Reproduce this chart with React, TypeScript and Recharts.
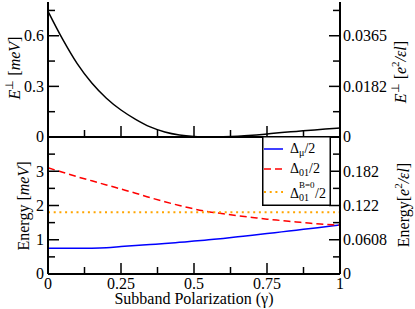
import React from 'react';
import { LineChart, Line, XAxis, YAxis, Legend } from 'recharts';

// --- data ---
const GAMMA = [0, 0.05, 0.1, 0.15, 0.2, 0.25, 0.3, 0.35, 0.4, 0.45, 0.5, 0.55, 0.6, 0.65, 0.7, 0.75, 0.8, 0.85, 0.9, 0.95, 1];
const E_PERP = [0.745, 0.58, 0.435, 0.32, 0.23, 0.16, 0.105, 0.06, 0.03, 0.012, 0.003, 0, 0.001, 0.004, 0.01, 0.018, 0.026, 0.033, 0.04, 0.047, 0.053];
const DELTA_MU = [0.75, 0.75, 0.75, 0.755, 0.77, 0.8, 0.83, 0.86, 0.89, 0.925, 0.96, 1.0, 1.04, 1.085, 1.13, 1.18, 1.23, 1.28, 1.33, 1.38, 1.43];
const DELTA_01 = [3.1, 2.97, 2.84, 2.72, 2.6, 2.48, 2.36, 2.23, 2.11, 2.0, 1.9, 1.82, 1.76, 1.7, 1.65, 1.6, 1.56, 1.52, 1.48, 1.45, 1.42];
const DELTA_01_B0 = [1.8, 1.8, 1.8, 1.8, 1.8, 1.8, 1.8, 1.8, 1.8, 1.8, 1.8, 1.8, 1.8, 1.8, 1.8, 1.8, 1.8, 1.8, 1.8, 1.8, 1.8];

// --- ticks ---
const X_TICKS = [0, 0.125, 0.25, 0.375, 0.5, 0.625, 0.75, 0.875, 1];
const X_LABELS = ['0', '', '0.25', '', '0.5', '', '0.75', '', '1'];
const X_NO_LABELS = ['-', '', '-', '', '-', '', '-', '', '-'];
const TOP_Y_TICKS = [0, 0.15, 0.3, 0.45, 0.6, 0.75];
const TOP_Y_LABELS = ['0', '', '0.3', '', '0.6', ''];
const TOP_R_LABELS = ['0', '', '0.0182', '', '0.0365', ''];
const BOT_Y_TICKS = [0, 0.5, 1, 1.5, 2, 2.5, 3, 3.5];
const BOT_Y_LABELS = ['0', '', '1', '', '2', '', '3', ''];
const BOT_R_LABELS = ['0', '', '0.0608', '', '0.122', '', '0.182', ''];

const LEGEND_ORDER = ['mu', 'd01', 'd01b0'];

const FONT = '"Liberation Serif", "Times New Roman", serif';
const TXT = { fontFamily: FONT };
const AXIS = { stroke: '#000', strokeWidth: 2 };

const topData = GAMMA.map((g, i) => ({ g, e: E_PERP[i] }));
const botData = GAMMA.map((g, i) => ({ g, mu: DELTA_MU[i], d01: DELTA_01[i], d01b0: DELTA_01_B0[i] }));

// ticks point inward, labelled ones are longer
const yTick = (labels: string[], side: 'left' | 'right') => (props: any) => {
  const { x, y, index } = props;
  const label = labels[index] ?? '';
  const len = label ? 11 : 7;
  const d = side === 'left' ? 1 : -1;
  return (
    <g>
      <line x1={x} y1={y} x2={x + d * len} y2={y} stroke="#000" strokeWidth={1.5} />
      {label && (
        <text x={side === 'left' ? x - 4 : x + 3} y={y} dy="0.33em" textAnchor={side === 'left' ? 'end' : 'start'}
          style={TXT} fontSize={16} fill="#000">{label}</text>
      )}
    </g>
  );
};

const xTick = (labels: string[]) => (props: any) => {
  const { x, y, index } = props;
  const label = labels[index] ?? '';
  const len = label ? 11 : 7;
  return (
    <g>
      <line x1={x} y1={y} x2={x} y2={y - len} stroke="#000" strokeWidth={1.5} />
      {label && label !== '-' && (
        <text x={x} y={y + 14.5} textAnchor="middle" style={TXT} fontSize={16} fill="#000">{label}</text>
      )}
    </g>
  );
};

// own prop names so that the axis label props don't override the position
const VTitle = ({ bx, by, children }: any) => (
  <text x={bx} y={by} transform={`rotate(-90 ${bx} ${by})`} textAnchor="middle" style={TXT} fontSize={16} fill="#000">
    {children}
  </text>
);
const HTitle = ({ bx, by, children }: any) => (
  <text x={bx} y={by} textAnchor="middle" style={TXT} fontSize={16} fill="#000">{children}</text>
);

const EperpMeV = <VTitle bx={20} by={68}><tspan fontStyle="italic">E</tspan><tspan fontSize={11} dy={-7}>⊥</tspan><tspan dy={7}> [</tspan><tspan fontStyle="italic">meV</tspan>]</VTitle>;
const EperpCoul = <VTitle bx={406} by={72}><tspan fontStyle="italic">E</tspan><tspan fontSize={11} dy={-7}>⊥</tspan><tspan dy={7}> [</tspan><tspan fontStyle="italic">e</tspan><tspan fontSize={11} dy={-7}>2</tspan><tspan dy={7} fontStyle="italic">/εl</tspan>]</VTitle>;
const EnergyMeV = <VTitle bx={29} by={70}>Energy [<tspan fontStyle="italic">meV</tspan>]</VTitle>;
const EnergyCoul = <VTitle bx={409} by={69}>Energy[<tspan fontStyle="italic">e</tspan><tspan fontSize={11} dy={-7}>2</tspan><tspan dy={7} fontStyle="italic">/εl</tspan>]</VTitle>;
const XTitle = <HTitle bx={194} by={168}>Subband Polarization (γ)</HTitle>;

const LegendBox = (props: any) => {
  const items = props.payload ?? [];
  const rowY = [13, 33, 56];
  return (
    <svg width={69} height={71} style={{ display: 'block' }}>
      <rect x={0.75} y={0.75} width={67.5} height={68.5} fill="#fff" stroke="#000" strokeWidth={1.5} />
      {items.map((it: any) => {
        const i = LEGEND_ORDER.indexOf(it.dataKey);
        if (i < 0) return null;
        return (
          <line key={it.dataKey} x1={2} x2={21} y1={rowY[i]} y2={rowY[i]} stroke={it.color}
            strokeWidth={i === 2 ? 2 : 1.5} strokeDasharray={it.payload?.strokeDasharray} />
        );
      })}
      <text style={TXT} fontSize={14} fill="#000">
        <tspan x={28} y={16.5}>Δ</tspan><tspan fontSize={10} dy={3}>μ</tspan><tspan dy={-3}>/2</tspan>
        <tspan x={28} y={36.5}>Δ</tspan><tspan fontSize={10} dy={3}>01</tspan><tspan dy={-3}>/2</tspan>
        <tspan x={28} y={61.5}>Δ</tspan><tspan x={37} fontSize={9} dy={-10}>B=0</tspan><tspan x={37} fontSize={10} dy={13}>01</tspan><tspan x={53} dy={-3}>/2</tspan>
      </text>
    </svg>
  );
};

export default function App() {
  return (
    <div style={{ position: 'absolute', left: 0, top: 0, width: 415, height: 309, background: '#fff' }}>
      <div style={{ position: 'absolute', left: 0, top: 0 }}>
        <LineChart width={415} height={150} data={topData} margin={{ top: 2, right: 0, bottom: 0, left: 0 }}>
          <XAxis xAxisId="b" dataKey="g" type="number" domain={[0, 1]} ticks={X_TICKS} interval={0} height={13}
            tickSize={0} tickMargin={0} tickLine={false} axisLine={AXIS} tick={xTick(X_NO_LABELS)} />
          <XAxis xAxisId="t" orientation="top" dataKey="g" type="number" domain={[0, 1]} height={0}
            tick={false} tickLine={false} axisLine={AXIS} />
          <YAxis yAxisId="l" type="number" domain={[0, 0.8]} ticks={TOP_Y_TICKS} interval={0} width={48}
            tickSize={0} tickMargin={0} tickLine={false} axisLine={AXIS} tick={yTick(TOP_Y_LABELS, 'left')} label={EperpMeV} />
          <YAxis yAxisId="r" orientation="right" type="number" domain={[0, 0.8]} ticks={TOP_Y_TICKS} interval={0} width={75}
            tickSize={0} tickMargin={0} tickLine={false} axisLine={AXIS} tick={yTick(TOP_R_LABELS, 'right')} label={EperpCoul} />
          <Line xAxisId="b" yAxisId="l" type="monotone" dataKey="e" stroke="#000" strokeWidth={1.5} dot={false} isAnimationActive={false} />
          <Line xAxisId="b" yAxisId="r" type="monotone" dataKey="e" stroke="none" dot={false} isAnimationActive={false} />
        </LineChart>
      </div>
      <div style={{ position: 'absolute', left: 0, top: 136 }}>
        <LineChart width={415} height={173} data={botData} margin={{ top: 1, right: 0, bottom: 0, left: 0 }}>
          <XAxis dataKey="g" type="number" domain={[0, 1]} ticks={X_TICKS} interval={0} height={35}
            tickSize={0} tickMargin={0} tickLine={false} axisLine={AXIS} tick={xTick(X_LABELS)} label={XTitle} />
          <YAxis yAxisId="l" type="number" domain={[0, 4]} ticks={BOT_Y_TICKS} interval={0} width={48}
            tickSize={0} tickMargin={0} tickLine={false} axisLine={AXIS} tick={yTick(BOT_Y_LABELS, 'left')} label={EnergyMeV} />
          <YAxis yAxisId="r" orientation="right" type="number" domain={[0, 4]} ticks={BOT_Y_TICKS} interval={0} width={75}
            tickSize={0} tickMargin={0} tickLine={false} axisLine={AXIS} tick={yTick(BOT_R_LABELS, 'right')} label={EnergyCoul} />
          <Line yAxisId="l" type="monotone" dataKey="mu" stroke="#0000ff" strokeWidth={1.5} dot={false} isAnimationActive={false} />
          <Line yAxisId="l" type="monotone" dataKey="d01" stroke="#ff0000" strokeWidth={1.5} strokeDasharray="7 4" dot={false} isAnimationActive={false} />
          <Line yAxisId="l" type="monotone" dataKey="d01b0" stroke="#ffa500" strokeWidth={2} strokeDasharray="2 3.7" dot={false} isAnimationActive={false} />
          <Line yAxisId="r" type="monotone" dataKey="d01b0" stroke="none" dot={false} legendType="none" isAnimationActive={false} />
          <Legend layout="horizontal" align="center" verticalAlign="middle" content={LegendBox}
            wrapperStyle={{ position: 'absolute', left: 262, top: 0, width: 69, height: 71 }} />
        </LineChart>
      </div>
    </div>
  );
}
